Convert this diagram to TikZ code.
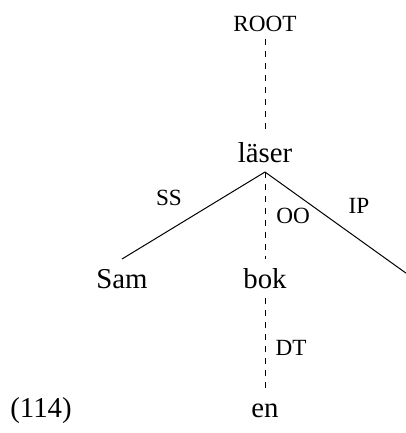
\documentclass[tikz,border=0pt]{standalone}
\usepackage{fontspec}
\setmainfont{Liberation Serif}
\usetikzlibrary{positioning}

\begin{document}
\begin{tikzpicture}[x=0.5pt,y=-0.5pt]
  \tikzset{
    word/.style={font=\fontsize{14.4}{17}\selectfont,anchor=base,
                 text height=11pt,text depth=1.5pt,inner sep=3.3pt},
    rel/.style={font=\fontsize{11.6}{14}\selectfont,anchor=base,inner sep=3.3pt},
    dep/.style={line width=0.5pt},
    dashdep/.style={dep,dashed},
  }
  \useasboundingbox (0,0) rectangle (406,433);

  % words of the sentence
  \node[rel]  (root)  at (265,32)  {ROOT};
  \node[word] (laeser) at (265,162) {läser};
  \node[word] (sam)   at (122,288) {Sam};
  \node[word] (bok)   at (265,288) {bok};
  \node[word] (en)    at (265,417) {en};
  \node[word,text height=,text depth=] (exnum) at (41,417) {(114)};
  \coordinate (ipend) at (410,276);

  % dependency arcs
  \draw[dashdep] (root.south) -- (laeser.north);
  \draw[dep] (laeser.south) -- (sam.north);
  \draw[dep] (laeser.south) -- (ipend);
  \draw[dashdep] (laeser.south) -- (bok.north);
  \draw[dashdep] (bok.south) -- (en.north);

  % relation labels
  \node[rel] (ss) at (169,205) {SS};
  \node[rel] (oo) at (293,223) {OO};
  \node[rel] (ip) at (359,213) {IP};
  \node[rel] (dt) at (291,355) {DT};
\end{tikzpicture}
\end{document}
